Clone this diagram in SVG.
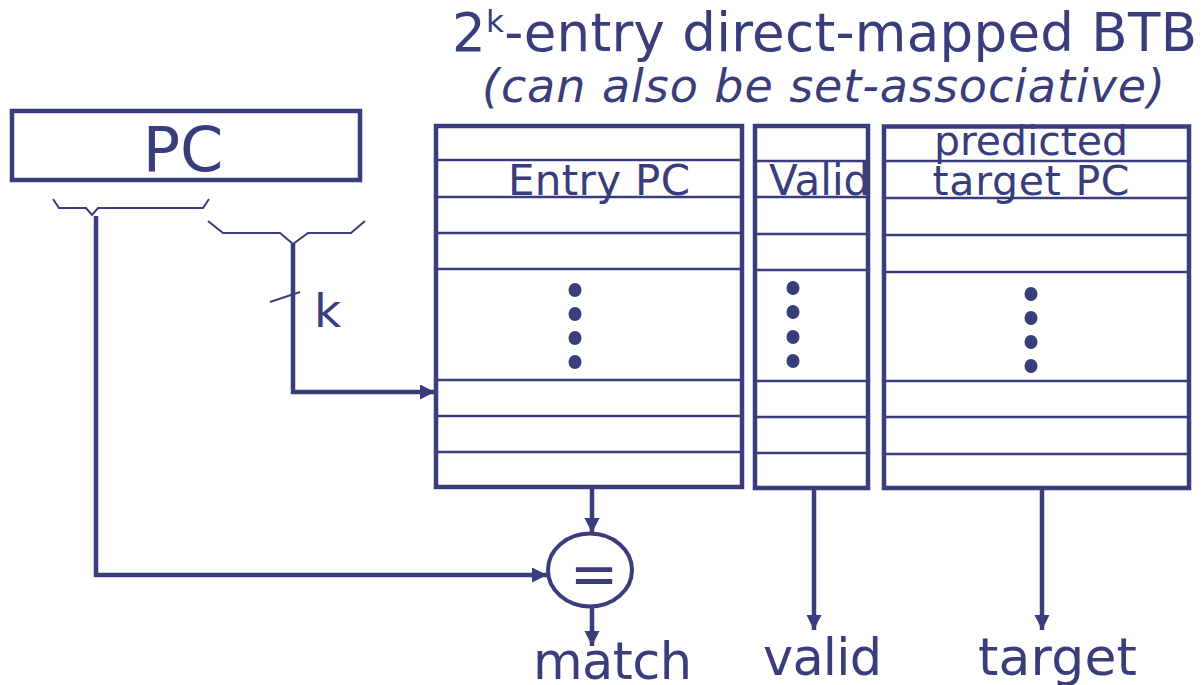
<svg xmlns="http://www.w3.org/2000/svg" width="1203" height="685" viewBox="0 0 1203 685">
<style>
text{font-family:"DejaVu Sans","Verdana",sans-serif;fill:#3a3d7b}
.box{fill:none;stroke:#3a3d7b;stroke-width:4.5}
.row{stroke:#3a3d7b;stroke-width:2.6}
.wire{fill:none;stroke:#3a3d7b;stroke-width:4.5;stroke-linejoin:miter}
.thin{fill:none;stroke:#3a3d7b;stroke-width:2;stroke-linejoin:miter}
.dot{fill:#3a3d7b}
</style>
<defs>
<marker id="ah" markerUnits="userSpaceOnUse" markerWidth="16" markerHeight="16" refX="15" refY="7.5" orient="auto">
<path d="M0,0 L15,7.5 L0,15 z" fill="#3a3d7b"/>
</marker>
</defs>
<rect width="1203" height="685" fill="#ffffff"/>

<g id="title">
<text x="452" y="51" font-size="53" textLength="745" lengthAdjust="spacing">2<tspan font-size="31" dy="-19">k</tspan><tspan dy="19">-entry direct-mapped BTB</tspan></text>
<text x="482" y="102" font-size="46" font-style="italic" textLength="683" lengthAdjust="spacing">(can also be set-associative)</text>
</g>

<g id="pc">
<rect class="box" x="12" y="111" width="348" height="69"/>
<text x="183" y="171" font-size="62" text-anchor="middle">PC</text>
</g>

<g id="brackets">
<polyline class="thin" points="53,199 59,208 86,208 92,215 98,208 203,208 209,199"/>
<polyline class="thin" points="208,221 223,233 280,233 293,244 308,233 351,233 365,221"/>
<line class="thin" x1="270" y1="302" x2="300" y2="292"/>
<text x="314" y="327" font-size="47">k</text>
</g>

<g id="entry-pc-table">
<text x="508" y="195" font-size="42" textLength="182" lengthAdjust="spacing">Entry PC</text>
<line class="row" x1="436" y1="160" x2="742" y2="160"/>
<line class="row" x1="436" y1="197" x2="742" y2="197"/>
<line class="row" x1="436" y1="233" x2="742" y2="233"/>
<line class="row" x1="436" y1="269" x2="742" y2="269"/>
<line class="row" x1="436" y1="380" x2="742" y2="380"/>
<line class="row" x1="436" y1="416" x2="742" y2="416"/>
<line class="row" x1="436" y1="452" x2="742" y2="452"/>
<ellipse class="dot" cx="575" cy="290" rx="6.5" ry="7"/>
<ellipse class="dot" cx="575" cy="314" rx="6.5" ry="7"/>
<ellipse class="dot" cx="575" cy="338" rx="6.5" ry="7"/>
<ellipse class="dot" cx="575" cy="362" rx="6.5" ry="7"/>
<rect class="box" x="436" y="126" width="306" height="361"/>
</g>

<g id="valid-table">
<text x="769" y="195" font-size="42">Valid</text>
<line class="row" x1="755" y1="161" x2="868" y2="161"/>
<line class="row" x1="755" y1="197" x2="868" y2="197"/>
<line class="row" x1="755" y1="234" x2="868" y2="234"/>
<line class="row" x1="755" y1="270" x2="868" y2="270"/>
<line class="row" x1="755" y1="381" x2="868" y2="381"/>
<line class="row" x1="755" y1="417" x2="868" y2="417"/>
<line class="row" x1="755" y1="453" x2="868" y2="453"/>
<ellipse class="dot" cx="793" cy="288" rx="6.5" ry="7"/>
<ellipse class="dot" cx="793" cy="312" rx="6.5" ry="7"/>
<ellipse class="dot" cx="793" cy="337" rx="6.5" ry="7"/>
<ellipse class="dot" cx="793" cy="361" rx="6.5" ry="7"/>
<rect class="box" x="755" y="126" width="113" height="362"/>
</g>

<g id="target-table">
<text x="1031" y="155" font-size="41" text-anchor="middle" textLength="194" lengthAdjust="spacing">predicted</text>
<text x="1031" y="195" font-size="41" text-anchor="middle" textLength="197" lengthAdjust="spacing">target PC</text>
<line class="row" x1="884" y1="161" x2="1189" y2="161"/>
<line class="row" x1="884" y1="198" x2="1189" y2="198"/>
<line class="row" x1="884" y1="235" x2="1189" y2="235"/>
<line class="row" x1="884" y1="272" x2="1189" y2="272"/>
<line class="row" x1="884" y1="381" x2="1189" y2="381"/>
<line class="row" x1="884" y1="417" x2="1189" y2="417"/>
<line class="row" x1="884" y1="454" x2="1189" y2="454"/>
<ellipse class="dot" cx="1031" cy="294" rx="6.5" ry="7"/>
<ellipse class="dot" cx="1031" cy="318" rx="6.5" ry="7"/>
<ellipse class="dot" cx="1031" cy="342" rx="6.5" ry="7"/>
<ellipse class="dot" cx="1031" cy="366" rx="6.5" ry="7"/>
<rect class="box" x="884" y="126.5" width="305" height="361.5"/>
</g>

<g id="comparator">
<ellipse cx="590" cy="570" rx="42" ry="36.5" fill="#ffffff" stroke="#3a3d7b" stroke-width="4"/>
<text x="594" y="594" font-size="58" text-anchor="middle">=</text>
</g>

<g id="connectors">
<polyline class="wire" points="96,216 96,575 547,575" marker-end="url(#ah)"/>
<polyline class="wire" points="293,244 293,392 435,392" marker-end="url(#ah)"/>
<line class="wire" x1="592" y1="487" x2="592" y2="533" marker-end="url(#ah)"/>
<line class="wire" x1="592" y1="607" x2="592" y2="646" marker-end="url(#ah)"/>
<line class="wire" x1="814" y1="488" x2="814" y2="630" marker-end="url(#ah)"/>
<line class="wire" x1="1042" y1="488" x2="1042" y2="630" marker-end="url(#ah)"/>
</g>

<g id="labels">
<text x="533" y="679" font-size="51" textLength="159" lengthAdjust="spacing">match</text>
<text x="763" y="675" font-size="51" textLength="119" lengthAdjust="spacing">valid</text>
<text x="978" y="675" font-size="52" textLength="159" lengthAdjust="spacing">target</text>
</g>
</svg>
